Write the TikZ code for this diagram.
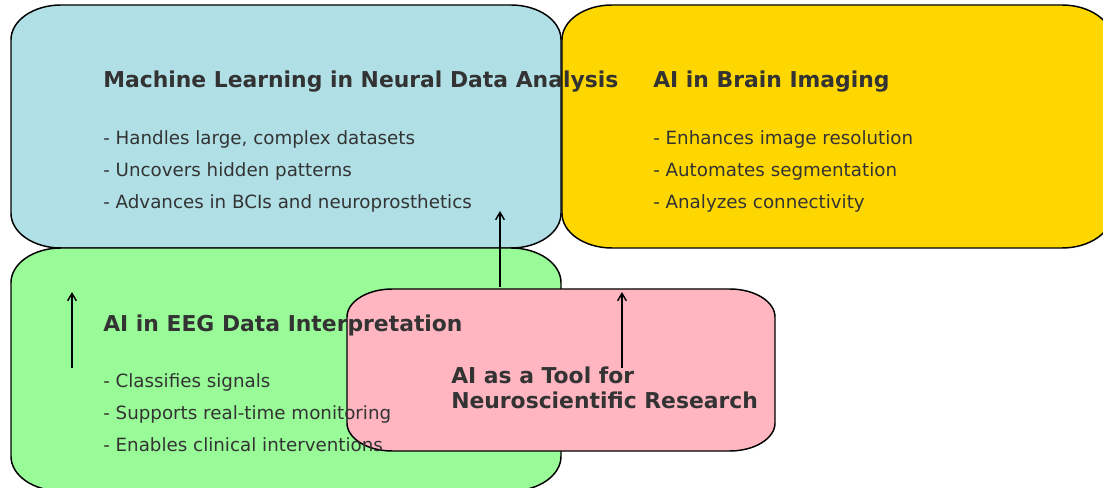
\documentclass[tikz,border=0pt]{standalone}
\usepackage{fontspec}
\setmainfont{DejaVu Sans}
\usetikzlibrary{arrows.meta, positioning, calc}

\definecolor{boxblue}{HTML}{B0E0E6}
\definecolor{boxgold}{HTML}{FFD700}
\definecolor{boxgreen}{HTML}{98FB98}
\definecolor{boxpink}{HTML}{FFB6C1}
\definecolor{ink}{HTML}{333333}

% panel round a named node: #1 node, #2 fill, #3 x radius, #4 y radius
\newcommand\panel[4]{%
  \path[draw=black, line width=1.1pt, fill=#2]
    let \p1=(#1.north west), \p2=(#1.south east) in
    (\x1+#3,\y1) -- (\x2-#3,\y1)
    arc[start angle=90, end angle=0, x radius=#3, y radius=#4]
    -- (\x2,\y2+#4)
    arc[start angle=0, end angle=-90, x radius=#3, y radius=#4]
    -- (\x1+#3,\y2)
    arc[start angle=270, end angle=180, x radius=#3, y radius=#4]
    -- (\x1,\y1-#4)
    arc[start angle=180, end angle=90, x radius=#3, y radius=#4]
    -- cycle;}

\begin{document}
\begin{tikzpicture}[x=0.75pt, y=-0.75pt,
    area/.style = {inner sep=0pt, outer sep=0pt},
    big/.style = {area, minimum width=412.5pt, minimum height=182.25pt},
    head/.style = {anchor=base west, inner sep=0pt, text=ink,
                   font=\fontsize{16.4}{20}\selectfont\bfseries},
    item/.style = {anchor=base west, inner sep=0pt, text=ink,
                   font=\fontsize{13.7}{17}\selectfont},
    link/.style = {line width=1.1pt, -{Straight Barb[length=5.5pt, width=6.5pt]}}]
\useasboundingbox (0,0) rectangle (1103,488);
\clip (0,0) rectangle (1103,488);

% the four panels
\node[big] (ml) at (286,126.5) {};
\node[big] (img) at (837,126.5) {};
\node[big] (eeg) at (286,369.5) {};
\node[area, minimum width=321pt, minimum height=121.5pt] (tool) at (561,370) {};
\panel{ml}{boxblue}{37.5pt}{26pt}
\panel{img}{boxgold}{37.5pt}{26pt}
\panel{eeg}{boxgreen}{37.5pt}{26pt}
\panel{tool}{boxpink}{34pt}{21pt}

% neural data analysis
\node[head] (mlhead) at (103,88) {Machine Learning in Neural Data Analysis};
\node[item] (ml1) at (103,144.5) {- Handles large, complex datasets};
\node[item] (ml2) at (103,176.5) {- Uncovers hidden patterns};
\node[item] (ml3) at (103,208.5) {- Advances in BCIs and neuroprosthetics};

% brain imaging
\node[head] (imghead) at (653,88) {AI in Brain Imaging};
\node[item] (img1) at (653,144.5) {- Enhances image resolution};
\node[item] (img2) at (653,176.5) {- Automates segmentation};
\node[item] (img3) at (653,208.5) {- Analyzes connectivity};

% EEG
\node[head] (eeghead) at (103,331) {AI in EEG Data Interpretation};
\node[item] (eeg1) at (103,387.5) {- Classifies signals};
\node[item] (eeg2) at (103,419.5) {- Supports real-time monitoring};
\node[item] (eeg3) at (103,451.5) {- Enables clinical interventions};

% centre
\node[head] (tool1) at (451,383) {AI as a Tool for};
\node[head] (tool2) at (451,408) {Neuroscientific Research};

% arrows
\coordinate (up1) at (500,287);
\coordinate (to1) at (500,211);
\coordinate (up2) at (72,368);
\coordinate (to2) at (72,292);
\coordinate (up3) at (622,368);
\coordinate (to3) at (622,292);
\draw[link] (up1) -- (to1);
\draw[link] (up2) -- (to2);
\draw[link] (up3) -- (to3);
\end{tikzpicture}
\end{document}
